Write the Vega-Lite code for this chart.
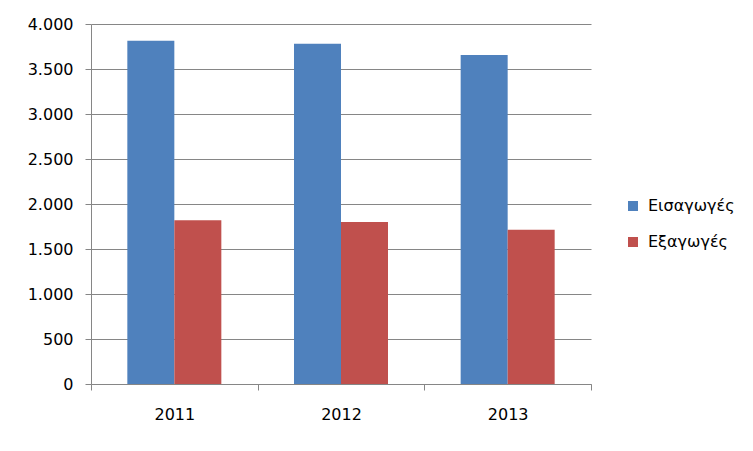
{
  "$schema": "https://vega.github.io/schema/vega-lite/v6.json",
  "width": 500,
  "height": 360,
  "autosize": {"type": "none"},
  "padding": {"left": 91, "top": 24, "right": 162, "bottom": 67},
  "background": "white",
  "config": {
    "locale": {"number": {"decimal": ",", "thousands": ".", "grouping": [3], "currency": ["", " €"]}},
    "view": {"stroke": null},
    "font": "DejaVu Sans"
  },
  "data": {
    "values": [
      {"year": "2011", "type": "Εισαγωγές", "value": 3815},
      {"year": "2011", "type": "Εξαγωγές", "value": 1820},
      {"year": "2012", "type": "Εισαγωγές", "value": 3780},
      {"year": "2012", "type": "Εξαγωγές", "value": 1800},
      {"year": "2013", "type": "Εισαγωγές", "value": 3655},
      {"year": "2013", "type": "Εξαγωγές", "value": 1715}
    ]
  },
  "mark": {"type": "bar"},
  "encoding": {
    "x": {
      "field": "year",
      "type": "nominal",
      "scale": {"paddingInner": 0, "paddingOuter": 0},
      "axis": {
        "title": null,
        "labelAngle": 0,
        "labelFont": "DejaVu Sans",
        "labelFontSize": 16,
        "labelColor": "#000000",
        "labelPadding": 16,
        "tickBand": "extent",
        "tickSize": 6,
        "tickColor": "#868686",
        "domainColor": "#868686",
        "grid": false
      }
    },
    "xOffset": {
      "field": "type",
      "type": "nominal",
      "sort": ["Εισαγωγές", "Εξαγωγές"],
      "scale": {"paddingInner": 0, "paddingOuter": 0.773}
    },
    "y": {
      "field": "value",
      "type": "quantitative",
      "scale": {"domain": [0, 4000], "nice": false},
      "axis": {
        "title": null,
        "values": [0, 500, 1000, 1500, 2000, 2500, 3000, 3500, 4000],
        "format": ",d",
        "labelFont": "DejaVu Sans",
        "labelFontSize": 16,
        "labelColor": "#000000",
        "labelPadding": 12,
        "tickSize": 6,
        "tickColor": "#868686",
        "domainColor": "#868686",
        "gridColor": "#868686",
        "gridWidth": 1
      }
    },
    "color": {
      "field": "type",
      "type": "nominal",
      "sort": ["Εισαγωγές", "Εξαγωγές"],
      "scale": {"domain": ["Εισαγωγές", "Εξαγωγές"], "range": ["#4F81BD", "#C0504D"]},
      "legend": {
        "title": null,
        "orient": "none",
        "legendX": 534,
        "legendY": 174,
        "symbolType": "square",
        "symbolSize": 100,
        "symbolStrokeWidth": 0,
        "labelFont": "DejaVu Sans",
        "labelFontSize": 16,
        "labelColor": "#000000",
        "labelOffset": 7,
        "rowPadding": 20
      }
    }
  }
}
